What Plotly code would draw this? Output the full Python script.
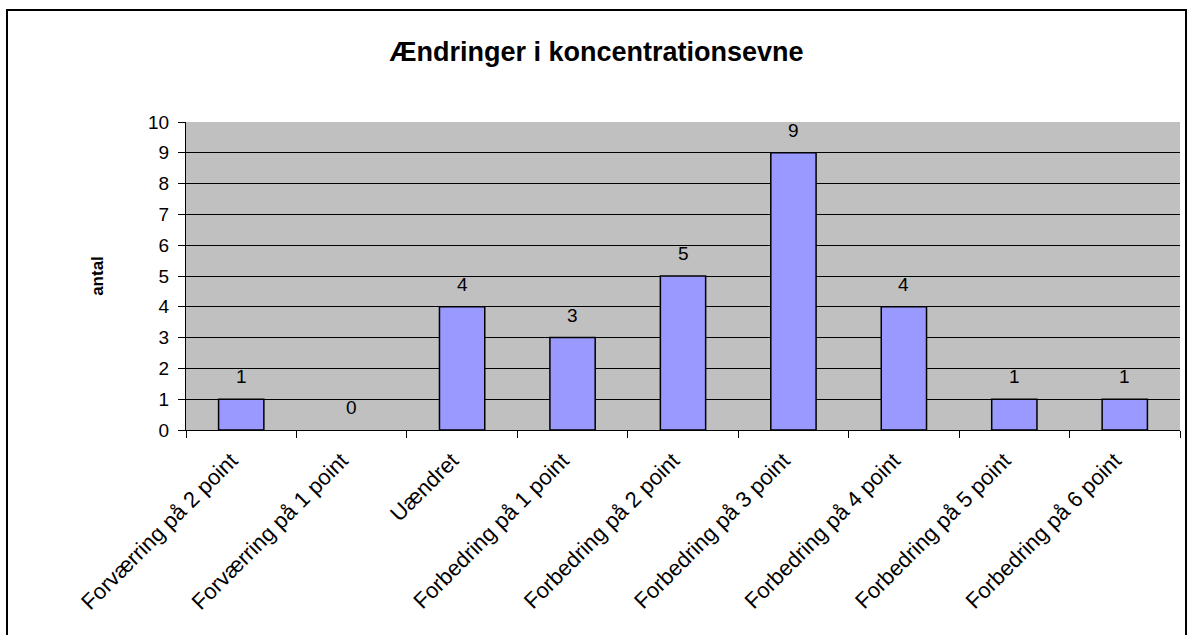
import plotly.graph_objects as go

categories = [
    "Forværring på 2 point",
    "Forværring på 1 point",
    "Uændret",
    "Forbedring på 1 point",
    "Forbedring på 2 point",
    "Forbedring på 3 point",
    "Forbedring på 4 point",
    "Forbedring på 5 point",
    "Forbedring på 6 point",
]
antal = [1, 0, 4, 3, 5, 9, 4, 1, 1]
y_ticks = list(range(0, 11))

W, H = 1187, 635
ML, MR, MT, MB = 186, 7, 122, 205
pw, ph = W - ML - MR, H - MT - MB

font = "Liberation Sans, Arial, sans-serif"

fig = go.Figure(
    go.Bar(
        x=categories,
        y=antal,
        marker=dict(
            color="#9999FF",
            line=dict(color="black", width=[1.5 if v else 0 for v in antal]),
        ),
        width=0.41,
        hoverinfo="x+y",
    )
)

# værdier over søjlerne
for c, v in zip(categories, antal):
    fig.add_annotation(
        x=c, y=v, text=str(v), showarrow=False, yanchor="bottom", yshift=10,
        font=dict(family=font, size=19, color="black"),
    )

# ramme rundt om hele diagrammet
fig.add_shape(
    type="rect", xref="paper", yref="paper",
    x0=(7 - ML) / pw, x1=(1186 - ML) / pw,
    y0=-(H + 20 - MT - ph) / ph, y1=1 + (MT - 10) / ph,
    line=dict(color="black", width=2), layer="below",
)

fig.update_layout(
    width=W, height=H,
    margin=dict(l=ML, r=MR, t=MT, b=MB),
    paper_bgcolor="white",
    plot_bgcolor="#C0C0C0",
    showlegend=False,
    font=dict(family=font, color="black"),
    title=dict(
        text="<b>Ændringer i koncentrationsevne</b>",
        x=(7 + 1186) / 2 / W, xanchor="center",
        y=1 - 52 / H, yanchor="middle",
        font=dict(size=27, family=font),
    ),
    xaxis=dict(
        tickangle=-45,
        tickson="boundaries",
        ticks="outside", ticklen=7, tickcolor="black",
        showline=True, linecolor="black", linewidth=1,
        showgrid=False,
        tickfont=dict(size=22, family=font),
        ticklabelstandoff=8,
        ticklabelshift=-10,
    ),
    yaxis=dict(
        range=[0, 10],
        tickvals=y_ticks,
        ticks="outside", ticklen=7, tickcolor="black",
        showline=True, linecolor="black", linewidth=1,
        showgrid=True, gridcolor="black", gridwidth=1,
        zeroline=False,
        tickfont=dict(size=19, family=font),
        ticklabelstandoff=5,
        title=dict(text="<b>antal</b>", font=dict(size=17, family=font), standoff=40),
    ),
)

fig.write_html(
    "out.html",
    config={"displayModeBar": False},
    post_script="document.body.style.margin='0';",
)
